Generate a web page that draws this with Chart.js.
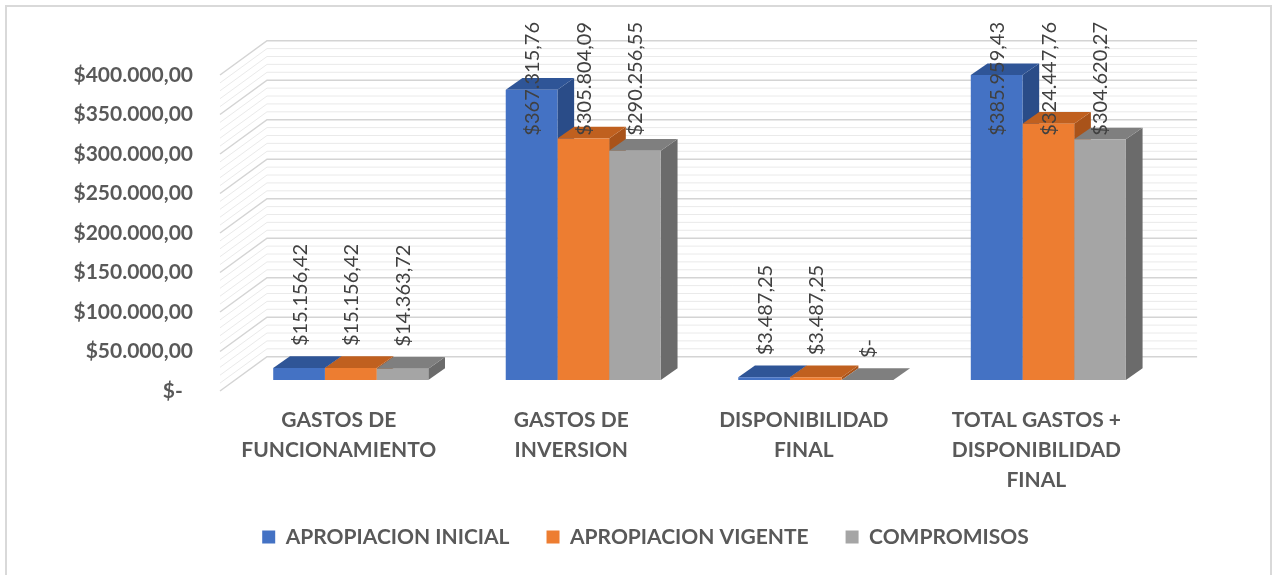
<!DOCTYPE html>
<html>
<head>
<meta charset="utf-8">
<title>Ejecución presupuestal</title>
<script src="https://cdn.jsdelivr.net/npm/chart.js@4.4.1/dist/chart.umd.min.js"></script>
<style>
  html, body { margin: 0; padding: 0; background: #ffffff; }
  canvas { display: block; }
</style>
</head>
<body>
<canvas id="chart" width="1272" height="575"></canvas>
<script>
// Categories (multi-line axis labels)
const categories = [
  ['GASTOS DE', 'FUNCIONAMIENTO'],
  ['GASTOS DE', 'INVERSION'],
  ['DISPONIBILIDAD', 'FINAL'],
  ['TOTAL GASTOS +', 'DISPONIBILIDAD', 'FINAL']
];

// Series
const seriesNames = ['APROPIACION INICIAL', 'APROPIACION VIGENTE', 'COMPROMISOS'];
const apropiacionInicial = [15156.42, 367315.76, 3487.25, 385959.43];
const apropiacionVigente = [15156.42, 305804.09, 3487.25, 324447.76];
const compromisos        = [14363.72, 290256.55, 0, 304620.27];

// Value axis
const axisMax = 400000;
const axisStep = 50000;
const minorStep = 10000;

// Colours: front face, top face, side face
const frontColors = ['#4472C4', '#ED7D31', '#A5A5A5'];
const topColors   = ['#2F5597', '#C0601F', '#7F7F7F'];
const sideColors  = ['#2A4C88', '#A9531A', '#6B6B6B'];

// Oblique projection offsets (px) relative to the bars' front plane
const BAR_DEPTH  = { dx: 16.7, dy: -11.7 };  // thickness of each bar
const WALL_DEPTH = { dx: 32.5, dy: -23.3 };  // back wall
const FLOOR_EDGE = { dx: -14.5, dy: 11 };    // front edge of the side wall

const TEXT_GREY = '#595959';
const LABEL_GREY = '#404040';
const LEGEND_FONT = 21;
const LEGEND_PADDING = 37;
const LEGEND_CENTER_X = 645.5;
const LEGEND_TEXT_Y = 537;

function money(v) {
  if (v === 0) return '$-';
  const parts = v.toFixed(2).split('.');
  return '$' + parts[0].replace(/\B(?=(\d{3})+(?!\d))/g, '.') + ',' + parts[1];
}

const depthPlugin = {
  id: 'depth3d',
  afterLayout(chart) {
    // centre the legend row under the plot and set its baseline
    const lg = chart.legend;
    if (!lg) return;
    const dx = LEGEND_CENTER_X - (lg.left + lg.right) / 2;
    lg.left += dx;
    lg.right += dx;
    const dy = LEGEND_TEXT_Y - (lg.top + LEGEND_PADDING + LEGEND_FONT / 2);
    lg.top += dy;
    lg.bottom += dy;
  },
  beforeDraw(chart) {
    const { ctx, width, height } = chart;
    ctx.save();
    ctx.fillStyle = '#ffffff';
    ctx.fillRect(0, 0, width, height);
    // outer frame
    ctx.strokeStyle = '#d9d9d9';
    ctx.lineWidth = 2;
    ctx.beginPath();
    ctx.moveTo(6, height + 4);
    ctx.lineTo(6, 6);
    ctx.lineTo(width - 1, 6);
    ctx.lineTo(width - 1, height + 4);
    ctx.stroke();
    ctx.restore();
  },
  beforeDatasetsDraw(chart) {
    const { ctx, chartArea: a, scales: { y } } = chart;
    ctx.save();
    // side wall diagonals and back wall gridlines
    for (let v = 0; v <= axisMax; v += minorStep) {
      const major = v % axisStep === 0;
      const py = y.getPixelForValue(v);
      ctx.strokeStyle = major ? '#d4d4d4' : '#eaeaea';
      ctx.lineWidth = major ? 1.5 : 1;
      ctx.beginPath();
      ctx.moveTo(a.left + FLOOR_EDGE.dx, py + FLOOR_EDGE.dy);
      ctx.lineTo(a.left + WALL_DEPTH.dx, py + WALL_DEPTH.dy);
      ctx.lineTo(a.right + WALL_DEPTH.dx, py + WALL_DEPTH.dy);
      ctx.stroke();
    }
    // side and top faces of each bar, left to right
    const n = chart.data.labels.length;
    for (let i = 0; i < n; i++) {
      chart.data.datasets.forEach((ds, d) => {
        const el = chart.getDatasetMeta(d).data[i];
        const l = el.x - el.width / 2, r = el.x + el.width / 2;
        const t = el.y, b = el.base;
        ctx.fillStyle = sideColors[d];
        ctx.beginPath();
        ctx.moveTo(r, t);
        ctx.lineTo(r + BAR_DEPTH.dx, t + BAR_DEPTH.dy);
        ctx.lineTo(r + BAR_DEPTH.dx, b + BAR_DEPTH.dy);
        ctx.lineTo(r, b);
        ctx.closePath();
        ctx.fill();
        ctx.fillStyle = topColors[d];
        ctx.beginPath();
        ctx.moveTo(l, t);
        ctx.lineTo(r, t);
        ctx.lineTo(r + BAR_DEPTH.dx, t + BAR_DEPTH.dy);
        ctx.lineTo(l + BAR_DEPTH.dx, t + BAR_DEPTH.dy);
        ctx.closePath();
        ctx.fill();
      });
    }
    ctx.restore();
  },
  afterDatasetsDraw(chart) {
    const { ctx, chartArea: a } = chart;
    const labelTop = a.top - 42;
    ctx.save();
    ctx.font = '20px Lato';
    ctx.fillStyle = LABEL_GREY;
    ctx.textAlign = 'left';
    ctx.textBaseline = 'middle';
    chart.data.datasets.forEach((ds, d) => {
      chart.getDatasetMeta(d).data.forEach((el, i) => {
        const text = money(ds.data[i]);
        const w = ctx.measureText(text).width;
        let start = el.y - 22;
        if (start - w < labelTop) start = labelTop + w;
        ctx.save();
        ctx.translate(el.x + 1, start);
        ctx.rotate(-Math.PI / 2);
        ctx.fillText(text, 0, 0);
        ctx.restore();
      });
    });
    ctx.restore();
  }
};

function build() {
  new Chart(document.getElementById('chart'), {
    type: 'bar',
    data: {
      labels: categories,
      datasets: [
        { label: seriesNames[0], data: apropiacionInicial, backgroundColor: frontColors[0] },
        { label: seriesNames[1], data: apropiacionVigente, backgroundColor: frontColors[1] },
        { label: seriesNames[2], data: compromisos, backgroundColor: frontColors[2] }
      ]
    },
    options: {
      responsive: false,
      devicePixelRatio: 1,
      animation: false,
      datasets: { bar: { categoryPercentage: 0.667, barPercentage: 1, borderWidth: 0 } },
      layout: { padding: { left: 10, right: 107.4, top: 64, bottom: 0 } },
      scales: {
        x: {
          grid: { display: false, drawTicks: false },
          border: { display: false },
          ticks: {
            color: TEXT_GREY,
            font: { family: 'Lato', weight: 'bold', size: 21, lineHeight: 1.43 },
            padding: 25,
            labelOffset: -12,
            maxRotation: 0,
            autoSkip: false
          },
          afterFit(s) { s.height = 127; }
        },
        y: {
          min: 0,
          max: axisMax,
          grid: { display: false, drawTicks: false },
          border: { display: false },
          ticks: {
            stepSize: axisStep,
            color: TEXT_GREY,
            font: { family: 'Lato', weight: 'bold', size: 21 },
            padding: 41.5,
            labelOffset: 11,
            callback: v => (v === 0 ? '$-  ' : money(v))
          },
          afterFit(s) { s.width = 224.5; }
        }
      },
      plugins: {
        legend: {
          position: 'bottom',
          labels: {
            color: TEXT_GREY,
            font: { family: 'Lato', weight: 'bold', size: LEGEND_FONT },
            boxWidth: 13,
            boxHeight: 13,
            padding: LEGEND_PADDING
          }
        },
        tooltip: { enabled: false }
      }
    },
    plugins: [depthPlugin]
  });
}

if (document.fonts && document.fonts.load) {
  Promise.all([
    document.fonts.load('bold 20px Lato'),
    document.fonts.load('20px Lato')
  ]).then(build, build);
} else {
  build();
}
</script>
</body>
</html>
